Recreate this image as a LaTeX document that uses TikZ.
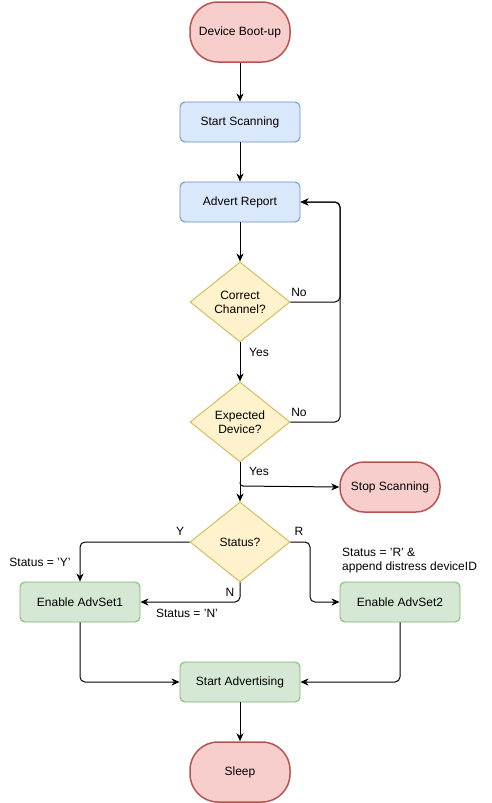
\documentclass[tikz,border=0pt]{standalone}
\usepackage{fontspec}
\setmainfont{Liberation Sans}
\usetikzlibrary{shapes.geometric,arrows.meta}
\definecolor{redfill}{HTML}{F8CECC}
\definecolor{redline}{HTML}{B85450}
\definecolor{bluefill}{HTML}{DAE8FC}
\definecolor{blueline}{HTML}{6C8EBF}
\definecolor{greenfill}{HTML}{D5E8D4}
\definecolor{greenline}{HTML}{82B366}
\definecolor{yelfill}{HTML}{FFF2CC}
\definecolor{yelline}{HTML}{D6B656}
\begin{document}
\begin{tikzpicture}[x=1pt,y=-1pt,
  font=\fontsize{12}{14}\selectfont,
  term/.style={draw=redline,fill=redfill,line width=1.5pt,rounded corners=28pt,minimum width=100pt,minimum height=60pt,inner sep=0pt},
  bluebox/.style={draw=blueline,fill=bluefill,line width=0.9pt,rounded corners=5pt,minimum width=120pt,minimum height=40pt,inner sep=0pt},
  greenbox/.style={draw=greenline,fill=greenfill,line width=0.9pt,rounded corners=5pt,minimum width=120pt,minimum height=40pt,inner sep=0pt},
  dec/.style={diamond,draw=yelline,fill=yelfill,line width=0.9pt,minimum width=100pt,minimum height=80pt,aspect=1.25,inner sep=0pt,align=center},
  conn/.style={draw,line width=1pt,rounded corners=5pt,-{Stealth[length=8pt,width=7pt,inset=2.5pt]}},
  lbl/.style={inner sep=1pt}
]
\useasboundingbox (0,0) rectangle (492,803);
\node[term] (boot) at (240,32) {Device Boot-up};
\node[bluebox] (scan) at (240,122) {Start Scanning};
\node[bluebox] (adv) at (240,202) {Advert Report};
\node[dec] (chan) at (240,302) {Correct\\Channel?};
\node[dec] (dev) at (240,422) {Expected\\Device?};
\node[term,minimum height=50pt,rounded corners=24pt] (stop) at (390,487) {Stop Scanning};
\node[dec] (stat) at (240,542) {Status?};
\node[greenbox] (set1) at (80,602) {Enable AdvSet1};
\node[greenbox] (set2) at (400,602) {Enable AdvSet2};
\node[greenbox] (sadv) at (240,682) {Start Advertising};
\node[term] (sleep) at (240,772) {Sleep};

\coordinate (rr) at (340,302);
\coordinate (rr2) at (340,422);
\coordinate (br) at (240,486);

\draw[conn] (boot) -- (scan);
\draw[conn] (scan) -- (adv);
\draw[conn] (adv) -- (chan);
\draw[conn] (chan) -- (dev);
\draw[conn] (chan.east) -- (rr) |- (adv.east);
\draw[conn] (dev.east) -- (rr2) |- (adv.east);
\draw[conn] (dev.south) -- (stat.north);
\draw[conn,rounded corners=3pt] (240,482) -- (br) -- (stop.west);
\draw[conn] (stat.west) -| (set1.north);
\draw[conn] (stat.south) |- (set1.east);
\draw[conn] (stat.east) -- (310,542) |- (set2.west);
\draw[conn] (set1.south) |- (sadv.west);
\draw[conn] (set2.south) |- (sadv.east);
\draw[conn] (sadv) -- (sleep);

\node[lbl] (y1) at (259,352) {Yes};
\node[lbl] (n1) at (299,292) {No};
\node[lbl] (n2) at (299,412) {No};
\node[lbl] (y2) at (259,471) {Yes};
\node[lbl] (ly) at (180,531) {Y};
\node[lbl] (lr) at (299,531) {R};
\node[lbl] (ln) at (230,592) {N};
\node[lbl] (sy) at (40,562) {Status = 'Y'};
\node[lbl] (sn) at (187,613) {Status = 'N'};
\node[lbl,anchor=west,align=left] (sr) at (341,561) {Status = 'R' \&\\append distress deviceID};
\end{tikzpicture}
\end{document}
